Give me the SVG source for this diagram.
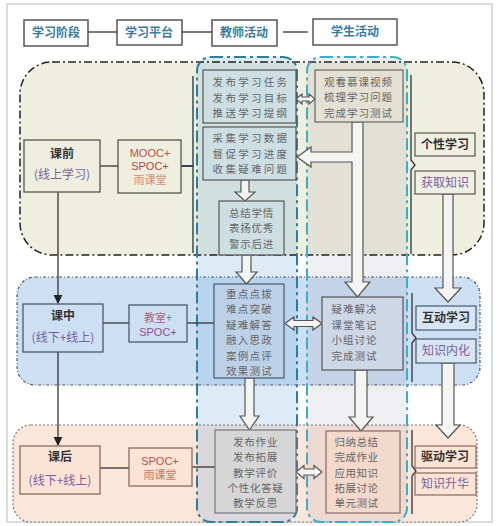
<svg xmlns="http://www.w3.org/2000/svg" width="500" height="526" viewBox="0 0 500 526">
<defs>
<marker id="ah" viewBox="0 0 10 10" refX="9" refY="5" markerWidth="7" markerHeight="7" orient="auto"><path d="M0,0 L10,5 L0,10 Z" fill="#222"/></marker>
<style>
.hdr{fill:#fff;stroke:#555;stroke-width:1.5}
.ht{font-family:"Noto Sans CJK SC",sans-serif;font-size:12px;font-weight:bold;fill:#3a7ca0;text-anchor:middle}
.cj{font-family:"Noto Sans CJK SC",sans-serif;text-anchor:middle}
.bx{font-size:10.5px;fill:#666}
.st{font-size:12px;font-weight:bold;fill:#333}
.pu{font-size:12px;fill:#7a5ea0}
.la{font-family:"Liberation Sans","Noto Sans CJK SC",sans-serif;font-size:11px;text-anchor:middle}
.hol{fill:#f4f5f2;stroke:#555;stroke-width:1.2}
.ln{stroke:#333;stroke-width:1.3;fill:none}
</style>
</defs>
<rect x="7" y="4" width="485" height="518" fill="#fff" stroke="#cfcfcf" stroke-width="1.5"/>

<g id="header">
<rect class="hdr" x="24" y="20" width="64" height="26"/>
<rect class="hdr" x="117" y="20" width="65" height="25"/>
<rect class="hdr" x="212" y="20" width="65" height="26"/>
<rect class="hdr" x="313" y="19" width="84" height="26"/>
<text class="ht" x="56" y="37">学习阶段</text>
<text class="ht" x="149" y="37">学习平台</text>
<text class="ht" x="244" y="37">教师活动</text>
<text class="ht" x="355" y="36">学生活动</text>
</g>

<g id="sections">
<rect x="20" y="62" width="464" height="193" rx="32" fill="#efefdf"/>
<rect x="17" y="277" width="463" height="108" rx="18" fill="#cddff2"/>
<rect x="13" y="425" width="464" height="97" rx="18" fill="#fbe6da"/>
</g>

<g id="columns">
<rect x="197" y="57" width="100" height="465" rx="14" fill="rgb(120,175,225)" fill-opacity="0.25"/>
<rect x="307" y="57" width="100" height="465" rx="14" fill="rgb(150,150,165)" fill-opacity="0.15"/>
</g>

<g id="section-borders" fill="none">
<rect x="20" y="62" width="464" height="193" rx="32" stroke="#222" stroke-width="1.5" stroke-dasharray="8 3 2 3"/>
<rect x="17" y="277" width="463" height="108" rx="18" stroke="#556" stroke-width="1.2" stroke-dasharray="3 2 1 2"/>
<rect x="13" y="425" width="464" height="97" rx="18" stroke="#777" stroke-width="1.2" stroke-dasharray="2 2"/>
<rect x="197" y="57" width="100" height="465" rx="14" stroke="#2b7f9a" stroke-width="2" stroke-dasharray="12 4 3 4"/>
<rect x="307" y="57" width="100" height="465" rx="14" stroke="#38b0cc" stroke-width="2" stroke-dasharray="12 4 3 4"/>
</g>

<g id="connectors">
<line class="ln" x1="88" y1="32" x2="117" y2="32"/>
<line class="ln" x1="182" y1="32" x2="212" y2="32"/>
<line class="ln" x1="283" y1="32" x2="308" y2="32"/>
<line class="ln" x1="100" y1="166" x2="118" y2="166"/>
<line x1="181" y1="166" x2="194" y2="166" stroke="#345" stroke-width="2"/>
<line x1="193" y1="76" x2="193" y2="253" stroke="#3a5666" stroke-width="1.6"/>
<line class="ln" x1="103" y1="323" x2="129" y2="323"/>
<line class="ln" x1="187" y1="323" x2="214" y2="323"/>
<line class="ln" x1="100" y1="468" x2="129" y2="468"/>
<line class="ln" x1="192" y1="467" x2="215" y2="467"/>
<line class="ln" x1="58" y1="192" x2="58" y2="303" marker-end="url(#ah)"/>
<line class="ln" x1="58" y1="352" x2="58" y2="445" marker-end="url(#ah)"/>
<path class="ln" d="M411,75 L411,160 L415,165 L411,170 L411,254"/>
<path class="ln" d="M412,293 L412,333 L416,338 L412,343 L412,382" stroke="#2a4a7a"/>
<path class="ln" d="M412,430 L412,466 L416,471 L412,476 L412,514" stroke="#6a5050"/>
<path class="hol" d="M241,180 L249,180 L249,192 L255,192 L245,201 L235,192 L241,192 Z"/>
<path class="hol" d="M242,255 L251,255 L251,272 L257,272 L246.5,284 L236,272 L242,272 Z"/>
<path class="hol" d="M245,378 L254,378 L254,416 L259,416 L249.5,430 L240,416 L245,416 Z"/>
<path class="hol" d="M352,122 L363,122 L363,282 L370,282 L357.5,297 L345,282 L352,282 L352,162 L311,162 L311,167 L297,157 L311,147 L311,152 L352,152 Z"/>
<path class="hol" d="M355,370 L367,370 L367,417 L373,417 L361,431 L349,417 L355,417 Z"/>
<path class="hol" d="M443,194 L453,194 L453,288 L461,288 L448,302 L435,288 L443,288 Z"/>
<path class="hol" d="M442,363 L454,363 L454,425 L460,425 L448,438 L436,425 L442,425 Z"/>
<path class="hol" d="M296,99 L302,94 L302,97 L309,97 L309,94 L315,99 L309,104 L309,101 L302,101 L302,104 Z"/>
<path class="hol" d="M285,323.5 L294,317 L294,320.5 L313,320.5 L313,317 L322,323.5 L313,330 L313,326.5 L294,326.5 L294,330 Z"/>
<path class="hol" d="M296,472 L304,465.5 L304,469 L314,469 L314,465.5 L322,472 L314,478.5 L314,475 L304,475 L304,478.5 Z"/>
</g>

<g id="stage-pre">
<rect x="24" y="140" width="76" height="52" fill="#efefdf" stroke="#555" stroke-width="1.3"/>
<text class="cj st" x="62" y="158">课前</text>
<text class="cj pu" x="62" y="179">(线上学习)</text>
</g>
<g id="platform-pre">
<rect x="118" y="140" width="63" height="53" fill="#efefdf" stroke="#555" stroke-width="1.3"/>
<text class="la" x="150" y="157" fill="#c0504d">MOOC+</text>
<text class="la" x="150" y="170" fill="#b04848">SPOC+</text>
<text class="cj" x="150" y="184" font-size="11px" fill="#d88878">雨课堂</text>
</g>
<g id="teacher-pre-1" letter-spacing="2.3">
<rect x="203" y="70" width="93" height="53" fill="#cddfe3" stroke="#555" stroke-width="1.2"/>
<text class="cj bx" x="251" y="86">发布学习任务</text>
<text class="cj bx" x="251" y="101.5">发布学习目标</text>
<text class="cj bx" x="251" y="117">推送学习提纲</text>
</g>
<g id="teacher-pre-2" letter-spacing="2.3">
<rect x="203" y="127" width="93" height="53" fill="#cddfe3" stroke="#555" stroke-width="1.2"/>
<text class="cj bx" x="251" y="142">采集学习数据</text>
<text class="cj bx" x="251" y="157.5">督促学习进度</text>
<text class="cj bx" x="251" y="173">收集疑难问题</text>
</g>
<g id="teacher-pre-3" letter-spacing="0.8">
<rect x="219" y="201" width="65" height="54" fill="#cddfe3" stroke="#555" stroke-width="1.2"/>
<text class="cj bx" x="251.5" y="216.5">总结学情</text>
<text class="cj bx" x="251.5" y="232">表扬优秀</text>
<text class="cj bx" x="251.5" y="247.5">警示后进</text>
</g>
<g id="student-pre" letter-spacing="1">
<rect x="315" y="70" width="88" height="52" fill="#e3e0d4" stroke="#666" stroke-width="1.2"/>
<text class="cj bx" x="358.5" y="85.5">观看慕课视频</text>
<text class="cj bx" x="358.5" y="101">梳理学习问题</text>
<text class="cj bx" x="358.5" y="116.5">完成学习测试</text>
</g>
<g id="outcome-pre">
<rect x="415" y="133" width="60" height="23" fill="#efefe2" stroke="#555" stroke-width="1.2"/>
<text class="cj st" x="445" y="149">个性学习</text>
<rect x="415" y="171" width="60" height="23" fill="#efefe2" stroke="#555" stroke-width="1.2"/>
<text class="cj pu" x="445" y="187">获取知识</text>
</g>

<g id="stage-in">
<rect x="23" y="304" width="80" height="48" fill="#cddff2" stroke="#4a5a70" stroke-width="1.3"/>
<text class="cj st" x="63" y="320">课中</text>
<text class="cj pu" x="63" y="342">(线下+线上)</text>
</g>
<g id="platform-in">
<rect x="129" y="305" width="58" height="37" fill="#cddff2" stroke="#4a5a70" stroke-width="1.3"/>
<text class="cj" x="158" y="322" font-size="11px" fill="#b06080">教室+</text>
<text class="la" x="158" y="336" fill="#9a4a8a">SPOC+</text>
</g>
<g id="teacher-in" letter-spacing="1.2">
<rect x="214" y="284" width="70" height="94" fill="#bcd0e8" stroke="#4a5a70" stroke-width="1.2"/>
<text class="cj bx" x="249.5" y="298" fill="#5a6a80">重点点拨</text>
<text class="cj bx" x="249.5" y="313.4" fill="#5a6a80">难点突破</text>
<text class="cj bx" x="249.5" y="328.8" fill="#5a6a80">疑难解答</text>
<text class="cj bx" x="249.5" y="344.2" fill="#5a6a80">融入思政</text>
<text class="cj bx" x="249.5" y="359.6" fill="#5a6a80">案例点评</text>
<text class="cj bx" x="249.5" y="375" fill="#5a6a80">效果测试</text>
</g>
<g id="student-in" letter-spacing="1">
<rect x="322" y="297" width="81" height="73" fill="#cdd7e6" stroke="#555" stroke-width="1.2"/>
<text class="cj bx" x="354.5" y="313">疑难解决</text>
<text class="cj bx" x="354.5" y="328.5">课堂笔记</text>
<text class="cj bx" x="354.5" y="344">小组讨论</text>
<text class="cj bx" x="354.5" y="359.5">完成测试</text>
</g>
<g id="outcome-in">
<rect x="416" y="306" width="60" height="24" fill="#d8e6f4" stroke="#4a5a70" stroke-width="1.2"/>
<text class="cj st" x="446" y="322">互动学习</text>
<rect x="416" y="339" width="60" height="24" fill="#d8e6f4" stroke="#4a5a70" stroke-width="1.2"/>
<text class="cj pu" x="446" y="355">知识内化</text>
</g>

<g id="stage-post">
<rect x="20" y="446" width="80" height="48" fill="#fbe4d6" stroke="#8a6a60" stroke-width="1.3"/>
<text class="cj st" x="60" y="461">课后</text>
<text class="cj pu" x="60" y="485">(线下+线上)</text>
</g>
<g id="platform-post">
<rect x="129" y="448" width="63" height="38" fill="#fbe4d6" stroke="#8a6a60" stroke-width="1.3"/>
<text class="la" x="160" y="465" fill="#c0504d">SPOC+</text>
<text class="cj" x="160" y="479" font-size="11px" fill="#d07060">雨课堂</text>
</g>
<g id="teacher-post" letter-spacing="0.7">
<rect x="215" y="430" width="81" height="83" fill="#d6d6d6" stroke="#777" stroke-width="1.2"/>
<text class="cj bx" x="255.5" y="446">发布作业</text>
<text class="cj bx" x="255.5" y="461.3">发布拓展</text>
<text class="cj bx" x="255.5" y="476.6">教学评价</text>
<text class="cj bx" x="255.5" y="491.9">个性化答疑</text>
<text class="cj bx" x="255.5" y="507.2">教学反思</text>
</g>
<g id="student-post" letter-spacing="0.5">
<rect x="326" y="431" width="74" height="82" fill="#f2d9cc" stroke="#8a6a60" stroke-width="1.2"/>
<text class="cj bx" x="356.5" y="446">归纳总结</text>
<text class="cj bx" x="356.5" y="461.3">完成作业</text>
<text class="cj bx" x="356.5" y="476.6">应用知识</text>
<text class="cj bx" x="356.5" y="491.9">拓展讨论</text>
<text class="cj bx" x="356.5" y="507.2">单元测试</text>
</g>
<g id="outcome-post">
<rect x="415" y="446" width="61" height="22" fill="#fbe4d6" stroke="#8a6a60" stroke-width="1.2"/>
<text class="cj st" x="445" y="461">驱动学习</text>
<rect x="415" y="473" width="61" height="22" fill="#fbe4d6" stroke="#8a6a60" stroke-width="1.2"/>
<text class="cj pu" x="445" y="488">知识升华</text>
</g>
</svg>
